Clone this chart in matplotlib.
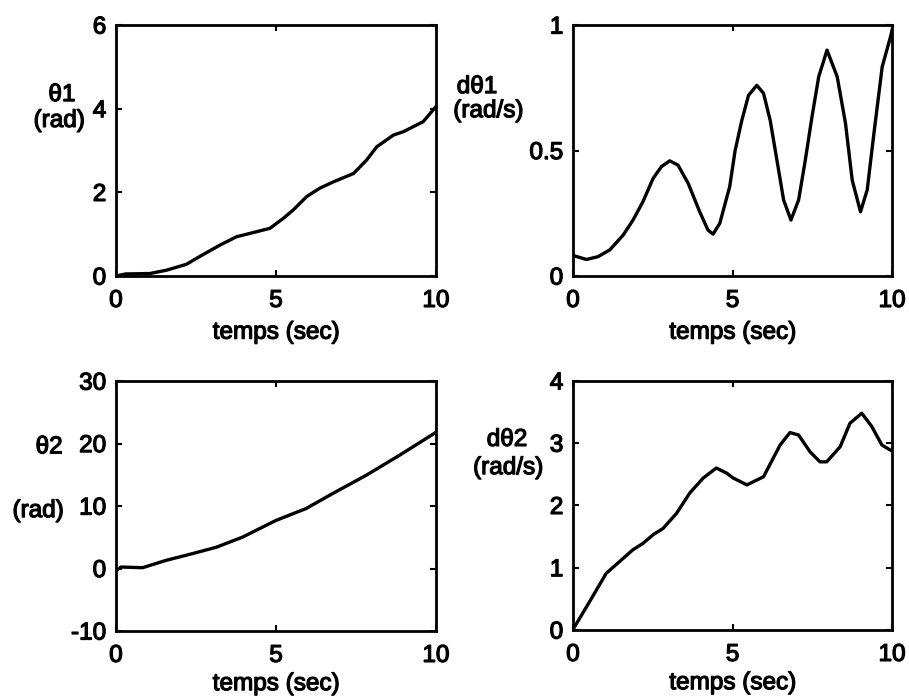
import matplotlib.pyplot as plt
import matplotlib.patheffects as pe
import numpy as np

plt.rcParams['font.family'] = ['Liberation Sans', 'DejaVu Sans']

# theta1 (rad)
t_th1 = [0, 0.3, 1.06, 1.58, 2.2, 2.6, 3.25, 3.77, 4.19, 4.81, 5.23, 5.54, 5.96,
         6.37, 6.79, 7.42, 7.83, 8.15, 8.67, 8.98, 9.6, 10.0]
th1 = [0, 0.05, 0.06, 0.14, 0.28, 0.46, 0.74, 0.94, 1.02, 1.14, 1.38, 1.58, 1.90,
       2.10, 2.25, 2.45, 2.77, 3.09, 3.37, 3.45, 3.69, 4.05]

# dtheta1 (rad/s)
t_dth1 = [0, 0.42, 0.78, 1.15, 1.57, 1.88, 2.19, 2.51, 2.77, 3.03, 3.29, 3.61, 3.97,
          4.23, 4.39, 4.6, 4.91, 5.08, 5.29, 5.5, 5.76, 5.97, 6.18, 6.39, 6.6, 6.83,
          7.07, 7.28, 7.49, 7.7, 7.96, 8.28, 8.54, 8.75, 9.01, 9.22, 9.43, 9.69,
          9.95, 10.0]
dth1 = [0.082, 0.066, 0.077, 0.104, 0.163, 0.223, 0.296, 0.389, 0.436, 0.459, 0.442,
        0.369, 0.256, 0.183, 0.167, 0.21, 0.356, 0.50, 0.62, 0.72, 0.76, 0.728, 0.62,
        0.462, 0.303, 0.223, 0.303, 0.462, 0.635, 0.794, 0.90, 0.794, 0.608, 0.382,
        0.256, 0.343, 0.568, 0.834, 0.953, 0.98]

# theta2 (rad)
t_th2 = [0, 0.16, 0.83, 1.56, 2.4, 3.13, 3.96, 5.0, 5.94, 6.77, 7.81, 8.85, 10.0]
th2 = [-0.3, 0.24, 0.13, 1.3, 2.4, 3.4, 5.04, 7.7, 9.6, 12.0, 14.9, 18.1, 21.8]

# dtheta2 (rad/s)
t_dth2 = [0, 0.42, 0.73, 1.04, 1.46, 1.88, 2.19, 2.51, 2.82, 3.24, 3.66, 4.08, 4.49,
          4.81, 5.02, 5.45, 5.97, 6.49, 6.8, 7.07, 7.43, 7.74, 7.95, 8.37, 8.68,
          9.05, 9.36, 9.68, 9.94]
dth2 = [0.01, 0.37, 0.64, 0.91, 1.10, 1.29, 1.39, 1.53, 1.63, 1.87, 2.20, 2.44, 2.60,
        2.52, 2.44, 2.33, 2.46, 2.97, 3.17, 3.13, 2.86, 2.70, 2.70, 2.94, 3.32,
        3.48, 3.27, 2.97, 2.89]

fs = 17.5
# scanned print looks a bit heavier than regular weight
thick = [pe.withStroke(linewidth=0.9, foreground='black')]

fig = plt.figure(figsize=(9.09, 6.96), dpi=100)
ax1 = fig.add_axes([0.1276, 0.6034, 0.352, 0.3606])
ax2 = fig.add_axes([0.6304, 0.6034, 0.351, 0.3606])
ax3 = fig.add_axes([0.1276, 0.0934, 0.352, 0.359])
ax4 = fig.add_axes([0.6304, 0.0948, 0.351, 0.358])

specs = [
    (ax1, t_th1, th1, (0, 6), [0, 2, 4, 6], 7),
    (ax2, t_dth1, dth1, (0, 1), [0, 0.5, 1], 7),
    (ax3, t_th2, th2, (-10, 30), [-10, 0, 10, 20, 30], 4.5),
    (ax4, t_dth2, dth2, (0, 4), [0, 1, 2, 3, 4], 4.5),
]
for ax, t, v, ylim, yt, lpad in specs:
    ax.plot(t, v, color='black', lw=2.4, solid_joinstyle='round')
    ax.set_xlim(0, 10)
    ax.set_ylim(*ylim)
    ax.set_xticks([0, 5, 10])
    ax.set_yticks(yt)
    ax.set_yticklabels([f'{y:g}' for y in yt])
    ax.tick_params(direction='in', length=4, width=1.5, top=True, right=True,
                   labelsize=fs, pad=7)
    ax.tick_params(axis='x', pad=10)
    for lab in ax.get_xticklabels() + ax.get_yticklabels():
        lab.set_path_effects(thick)
    for s in ax.spines.values():
        s.set_linewidth(2)
    ax.set_xlabel('temps (sec)', fontsize=fs, labelpad=lpad, path_effects=thick)

kw = dict(ha='center', va='center', fontsize=fs, path_effects=thick)
ax1.text(-0.169, 0.721, 'θ1', transform=ax1.transAxes, **kw)
ax1.text(-0.178, 0.618, '(rad)', transform=ax1.transAxes, **kw)
ax2.text(-0.301, 0.753, 'dθ1', transform=ax2.transAxes, **kw)
ax2.text(-0.266, 0.657, '(rad/s)', transform=ax2.transAxes, **kw)
ax3.text(-0.209, 0.735, 'θ2', transform=ax3.transAxes, **kw)
ax3.text(-0.244, 0.48, '(rad)', transform=ax3.transAxes, **kw)
ax4.text(-0.207, 0.763, 'dθ2', transform=ax4.transAxes, **kw)
ax4.text(-0.204, 0.65, '(rad/s)', transform=ax4.transAxes, **kw)

fig.savefig('out.png', dpi=100)
